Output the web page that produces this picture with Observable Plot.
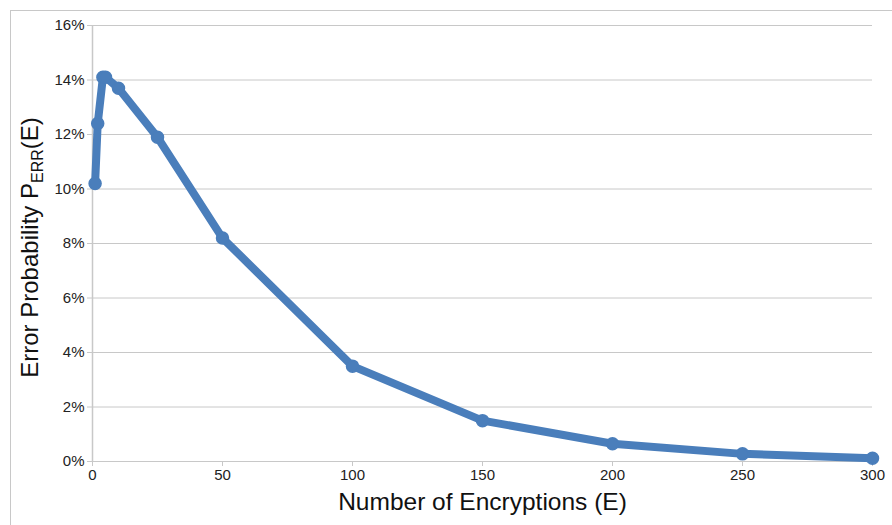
<!DOCTYPE html>
<html>
<head>
<meta charset="utf-8">
<script src="https://cdn.jsdelivr.net/npm/d3@7"></script>
<script src="https://cdn.jsdelivr.net/npm/@observablehq/plot@0.6"></script>
<style>
  body { margin: 0; background: #fff; font-family: "Liberation Sans", Arial, sans-serif; }
  #wrap { position: relative; width: 892px; height: 525px; overflow: hidden; }
  #border { position: absolute; left: 10px; top: 10px; width: 900px; height: 540px; border: 1px solid #c8c8c8; box-sizing: border-box; pointer-events: none; }
  svg { position: absolute; left: 0; top: 0; }
</style>
</head>
<body>
<div id="wrap"><div id="border"></div></div>
<script>
const encryptions = [1, 2, 4, 5, 10, 25, 50, 100, 150, 200, 250, 300];
const errorProb = [0.102, 0.124, 0.141, 0.141, 0.137, 0.119, 0.082, 0.035, 0.015, 0.0065, 0.0028, 0.0012];
const xTicks = [0, 50, 100, 150, 200, 250, 300];
const yTicks = [0, 0.02, 0.04, 0.06, 0.08, 0.10, 0.12, 0.14, 0.16];
const xLabel = "Number of Encryptions (E)";
const yLabelMain = "Error Probability P";
const yLabelSub = "ERR";
const yLabelEnd = "(E)";

const data = encryptions.map((e, i) => ({E: e, p: errorProb[i]}));
const blue = "#4a7ebb";

const chart = Plot.plot({
  width: 892,
  height: 525,
  marginLeft: 92,
  marginRight: 20,
  marginTop: 25,
  marginBottom: 64,
  style: {fontFamily: "'Liberation Sans', Arial, sans-serif", background: "transparent"},
  x: {domain: [0, 300], label: null},
  y: {domain: [0, 0.16], label: null},
  marks: [
    Plot.gridY(yTicks, {stroke: "#c8c8c8", strokeOpacity: 1, strokeWidth: 1}),
    Plot.ruleX([0], {stroke: "#c8c8c8", strokeWidth: 1.5}),
    Plot.axisY(yTicks, {tickFormat: d => Math.round(d * 100) + "%", tickSize: 5, tickPadding: 3, stroke: "#c8c8c8", fontSize: 15, fill: "#222"}),
    Plot.axisX(xTicks, {tickSize: 5, tickPadding: 3, stroke: "#c8c8c8", fontSize: 15, fill: "#222"}),
    Plot.line(data, {x: "E", y: "p", stroke: blue, strokeWidth: 8, strokeLinejoin: "round", strokeLinecap: "round"}),
    Plot.dot(data, {x: "E", y: "p", r: 6, fill: blue, stroke: blue}),
    Plot.text([xLabel], {frameAnchor: "bottom", lineAnchor: "middle", textAnchor: "middle", dy: 41, fontSize: 24.5, fill: "#111", text: d => d}),
    Plot.text([yLabelMain], {frameAnchor: "left", lineAnchor: "middle", textAnchor: "middle", dx: -62, dy: 4, rotate: -90, fontSize: 24, fill: "#111", text: d => d, className: "ylab"})
  ]
});
document.getElementById("wrap").appendChild(chart);

// Add subscript to the y-axis label
const t = d3.select(chart).select("g.ylab text");
t.text(null);
t.append("tspan").text(yLabelMain);
t.append("tspan").attr("font-size", 16).attr("dy", 5).text(yLabelSub);
t.append("tspan").attr("dy", -5).text(yLabelEnd);
</script>
</body>
</html>
